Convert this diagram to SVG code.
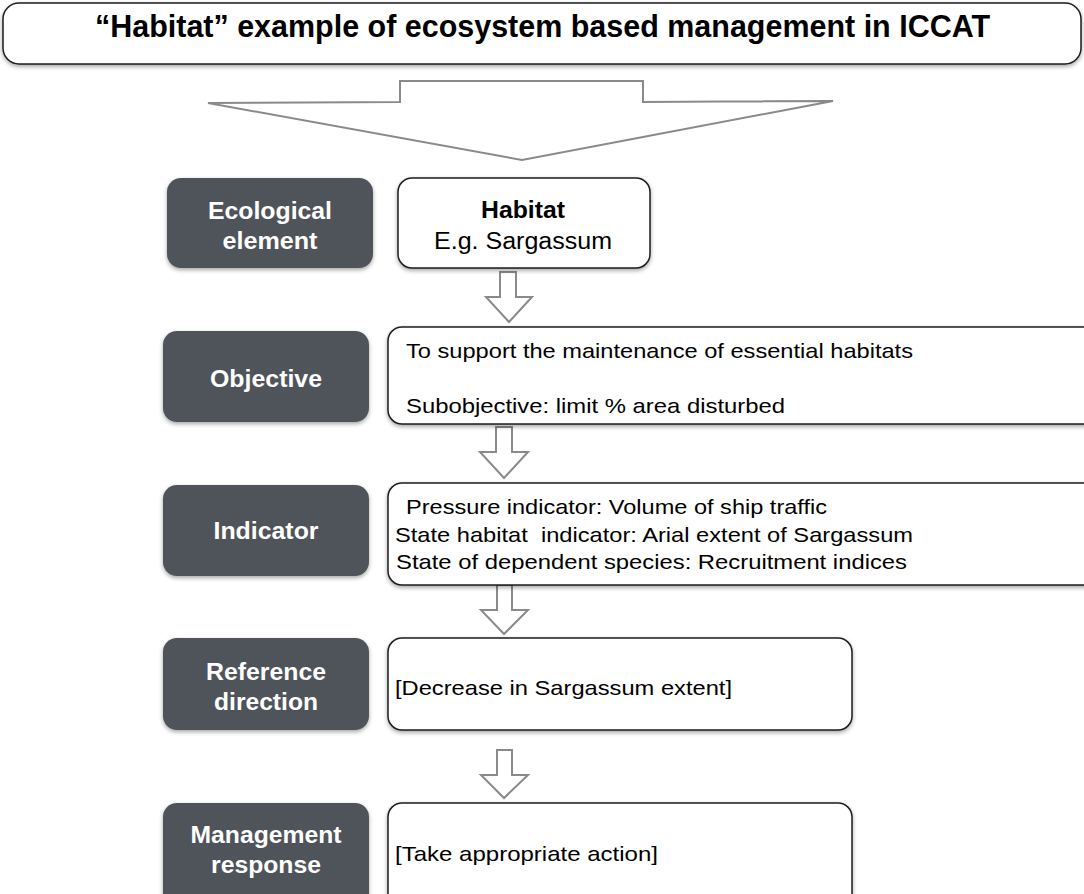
<svg xmlns="http://www.w3.org/2000/svg" width="1084" height="894" viewBox="0 0 1084 894">
<style>
.title{font-family:"Liberation Sans",Arial,sans-serif;font-weight:bold;font-size:31px;fill:#000}
.lbl{font-family:"Liberation Sans",Arial,sans-serif;font-weight:bold;font-size:23px;fill:#fff;text-anchor:middle}
.txt{font-family:"Liberation Sans",Arial,sans-serif;font-size:21px;fill:#000;white-space:pre}
.dark{fill:#4f535a}
.box{fill:#fff;stroke:#1e1e1e;stroke-width:1.5}
.arr{fill:#fff;stroke:#8a8a8a;stroke-width:2;stroke-linejoin:miter}
</style>
<defs>
<filter id="sh" x="-10%" y="-10%" width="130%" height="140%">
<feDropShadow dx="0" dy="2" stdDeviation="2" flood-color="#000" flood-opacity="0.35"/>
</filter>
</defs>
<rect width="1084" height="894" fill="#fff"/>
<g id="title">
<rect x="3" y="3" width="1078" height="61" rx="16" class="box" filter="url(#sh)"/>
<text x="95" y="37" class="title" textLength="895" lengthAdjust="spacingAndGlyphs">“Habitat” example of ecosystem based management in ICCAT</text>
</g>
<g id="connectors">
<polygon class="arr" points="208,103 400,102 400,81 643,81 643,102 833,101 522,160"/>
<polygon class="arr" points="500,272 516,272 516,297 532,297 509,322 486,297 500,297"/>
<polygon class="arr" points="496,427 512,427 512,452 528,452 504,478 480,452 496,452"/>
<polygon class="arr" points="497,585 512,585 512,610 528,610 504,634 481,610 497,610"/>
<polygon class="arr" points="497,750 512,750 512,775 528,775 504,798 481,775 497,775"/>
</g>
<g id="ecological-element">
<rect x="167" y="178" width="206" height="90" rx="14" class="dark" filter="url(#sh)"/>
<text x="270" y="219" class="lbl" textLength="124" lengthAdjust="spacingAndGlyphs">Ecological</text>
<text x="270" y="249" class="lbl" textLength="95" lengthAdjust="spacingAndGlyphs">element</text>
</g>
<g id="habitat">
<rect x="398" y="178" width="252" height="90" rx="14" class="box" filter="url(#sh)"/>
<text x="523" y="218" class="txt" style="font-weight:bold;font-size:23px;text-anchor:middle" textLength="84" lengthAdjust="spacingAndGlyphs">Habitat</text>
<text x="523" y="249" class="txt" style="font-size:23px;text-anchor:middle" textLength="178" lengthAdjust="spacingAndGlyphs">E.g. Sargassum</text>
</g>
<g id="objective-label">
<rect x="163" y="331" width="206" height="91" rx="14" class="dark" filter="url(#sh)"/>
<text x="266" y="387" class="lbl" textLength="112" lengthAdjust="spacingAndGlyphs">Objective</text>
</g>
<g id="objective">
<rect x="388" y="327" width="720" height="97" rx="14" class="box" filter="url(#sh)"/>
<text x="406" y="358" class="txt" textLength="507" lengthAdjust="spacingAndGlyphs">To support the maintenance of essential habitats</text>
<text x="406" y="413" class="txt" textLength="379" lengthAdjust="spacingAndGlyphs">Subobjective: limit % area disturbed</text>
</g>
<g id="indicator-label">
<rect x="163" y="485" width="206" height="91" rx="14" class="dark" filter="url(#sh)"/>
<text x="266" y="539" class="lbl" textLength="105" lengthAdjust="spacingAndGlyphs">Indicator</text>
</g>
<g id="indicator">
<rect x="388" y="483" width="720" height="102" rx="14" class="box" filter="url(#sh)"/>
<text x="406" y="514" class="txt" textLength="421" lengthAdjust="spacingAndGlyphs">Pressure indicator: Volume of ship traffic</text>
<text x="395" y="542" class="txt" textLength="518" lengthAdjust="spacingAndGlyphs">State habitat  indicator: Arial extent of Sargassum</text>
<text x="396" y="569" class="txt" textLength="511" lengthAdjust="spacingAndGlyphs">State of dependent species: Recruitment indices</text>
</g>
<g id="reference-label">
<rect x="163" y="638" width="206" height="92" rx="14" class="dark" filter="url(#sh)"/>
<text x="266" y="680" class="lbl" textLength="120" lengthAdjust="spacingAndGlyphs">Reference</text>
<text x="266" y="710" class="lbl" textLength="104" lengthAdjust="spacingAndGlyphs">direction</text>
</g>
<g id="reference">
<rect x="388" y="638" width="464" height="92" rx="14" class="box" filter="url(#sh)"/>
<text x="395" y="695" class="txt" textLength="337" lengthAdjust="spacingAndGlyphs">[Decrease in Sargassum extent]</text>
</g>
<g id="management-label">
<rect x="163" y="803" width="206" height="110" rx="14" class="dark" filter="url(#sh)"/>
<text x="266" y="843" class="lbl" textLength="151" lengthAdjust="spacingAndGlyphs">Management</text>
<text x="266" y="873" class="lbl" textLength="110" lengthAdjust="spacingAndGlyphs">response</text>
</g>
<g id="management">
<rect x="388" y="803" width="464" height="110" rx="14" class="box" filter="url(#sh)"/>
<text x="395" y="861" class="txt" textLength="263" lengthAdjust="spacingAndGlyphs">[Take appropriate action]</text>
</g>
</svg>
